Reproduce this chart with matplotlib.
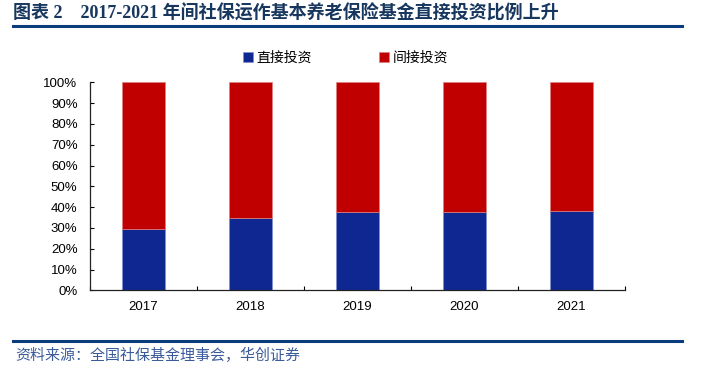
import numpy as np
import matplotlib.pyplot as plt
from matplotlib.lines import Line2D

years = ['2017', '2018', '2019', '2020', '2021']
direct = [29.5, 34.9, 37.5, 37.6, 38.0]  # 直接投资 (%)
indirect = [100 - v for v in direct]     # 间接投资 (%)

title = '图表 2    2017-2021 年间社保运作基本养老保险基金直接投资比例上升'
source = '资料来源：全国社保基金理事会，华创证券'

plt.rcParams['font.family'] = ['Liberation Sans', 'Noto Sans CJK SC']

fig = plt.figure(figsize=(7.05, 3.83), dpi=100)
ax = fig.add_axes([0.1277, 0.242, 0.7583, 0.543])

x = np.arange(len(years))
ax.bar(x, direct, width=0.4, color='#0F2891', edgecolor='#7f8fd0', linewidth=0.5, label='直接投资')
ax.bar(x, indirect, width=0.4, bottom=direct, color='#C00000', edgecolor='#e08080', linewidth=0.5, label='间接投资')

ax.set_xlim(-0.5, len(years) - 0.5)
ax.set_ylim(0, 100)
ax.set_yticks(np.arange(0, 101, 10))
ax.set_yticklabels([f'{v}%' for v in range(0, 101, 10)], fontsize=9.5)
ax.set_xticks(x)
ax.set_xticklabels(years, fontsize=9.5)
ax.set_xticks(np.arange(-0.5, len(years), 1.0), minor=True)
ax.tick_params(axis='x', which='major', length=0, pad=8)
ax.tick_params(axis='x', which='minor', direction='in', length=3, width=0.8)
ax.tick_params(axis='y', direction='in', length=3, width=0.8, pad=9)
for s in ['top', 'right']:
    ax.spines[s].set_visible(False)
for s in ['left', 'bottom']:
    ax.spines[s].set_color('#222222')
    ax.spines[s].set_linewidth(0.9)

ax.legend(loc='center', bbox_to_anchor=(0.478, 1.117), ncol=2, frameon=False,
          fontsize=10, handlelength=0.7, handleheight=0.7, handletextpad=0.3,
          columnspacing=4.8)

# title and source
fig.text(0.019, 0.966, title, fontsize=13, fontweight='bold', color='#17375E',
         va='center', ha='left', family=['Liberation Serif', 'Noto Sans CJK SC'])
fig.add_artist(Line2D([0.019, 0.967], [0.931, 0.931], color='#0B3D7D', linewidth=2.2))
fig.add_artist(Line2D([0.019, 0.967], [0.110, 0.110], color='#0B3D7D', linewidth=2.2))
fig.text(0.021, 0.073, source, fontsize=10.8, color='#3A5A9A', style='italic',
         va='center', ha='left', family=['Noto Sans CJK SC'])

fig.savefig('out.png', dpi=100)
